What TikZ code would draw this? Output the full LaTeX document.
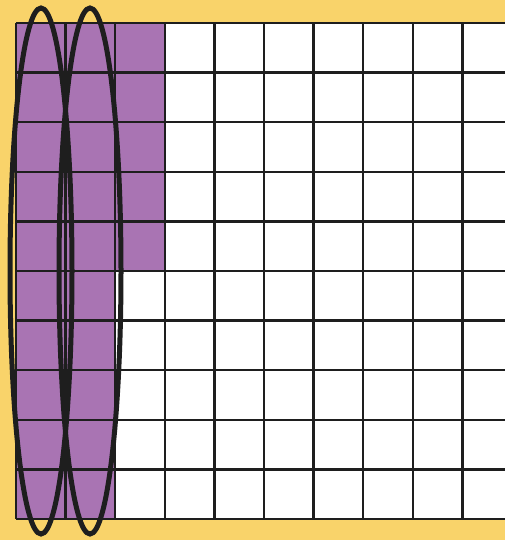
\documentclass[tikz,border=0pt]{standalone}
\usetikzlibrary{shapes.geometric}
\definecolor{bgyellow}{HTML}{F9D36A}
\definecolor{cellpurple}{HTML}{A974B3}
\definecolor{ink}{HTML}{1E1E1E}
\begin{document}
\begin{tikzpicture}[x=1pt,y=-1pt,
  gridline/.style={draw=ink,line width=2.4pt},
  loop/.style={draw=ink,line width=5pt}]
\useasboundingbox (0,0) rectangle (505,540);
\clip (0,0) rectangle (505,540);
\fill[bgyellow] (0,0) rectangle (505,540);
\fill[white] (16,23) rectangle (512,519);
\fill[cellpurple] (16,23) rectangle (115.2,519);
\fill[cellpurple] (115.2,23) rectangle (164.8,271);
\foreach \i in {0,...,10} {
  \draw[gridline] ({16+49.6*\i},23) -- ({16+49.6*\i},519);
  \draw[gridline] (16,{23+49.6*\i}) -- (512,{23+49.6*\i});
}
\node[loop,ellipse,minimum width=62pt,minimum height=526pt,inner sep=0pt] (e1) at (41,271) {};
\node[loop,ellipse,minimum width=62pt,minimum height=526pt,inner sep=0pt] (e2) at (90,271) {};
\end{tikzpicture}
\end{document}
